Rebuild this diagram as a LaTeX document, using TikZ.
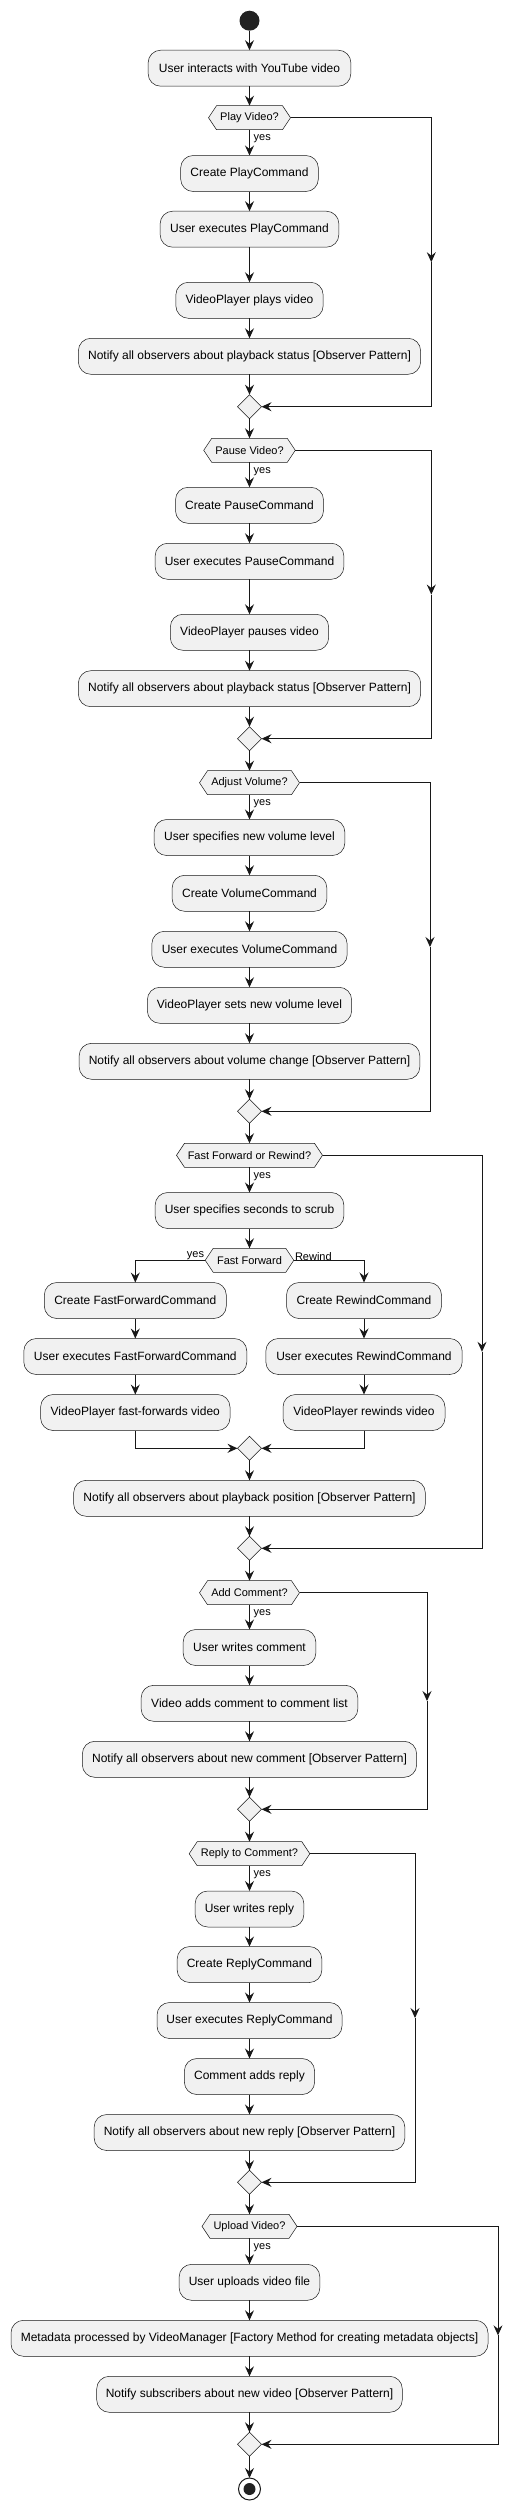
\documentclass[tikz,border=0pt]{standalone}
\usepackage{fontspec}
\setmainfont{Liberation Sans}
\usetikzlibrary{arrows.meta,shapes.geometric,backgrounds}
\definecolor{lc}{HTML}{181818}
\definecolor{bc}{HTML}{181818}
\definecolor{bf}{HTML}{F1F1F1}
\definecolor{dark}{HTML}{222222}
\tikzset{
  flow/.style={draw=lc, line width=1pt, -{Stealth[length=10pt,width=9pt,inset=3.5pt]}},
  actbox/.style={draw=bc, line width=0.5pt, fill=bf, rounded corners=12.5pt, minimum height=36pt, inner sep=0pt, outer sep=0pt, font=\fontsize{12}{14}\selectfont},
  hexnode/.style={minimum height=24pt, inner sep=0pt, outer sep=0pt, font=\fontsize{11}{13}\selectfont},
  hexshape/.style={draw=bc, line width=0.5pt, fill=bf},
  merge/.style={diamond, draw=bc, line width=0.5pt, fill=bf, minimum width=24pt, minimum height=24pt, inner sep=0pt, outer sep=0pt},
  lbl/.style={font=\fontsize{11}{13}\selectfont, inner sep=1pt}
}
\newcommand\hexdraw[1]{\path[hexshape] (#1.west) -- ([xshift=8pt]#1.north west) -- ([xshift=-8pt]#1.north east) -- (#1.east) -- ([xshift=-8pt]#1.south east) -- ([xshift=8pt]#1.south west) -- cycle;}
\begin{document}
\begin{tikzpicture}[x=1pt,y=-1pt]
\useasboundingbox (0,0) rectangle (523,2508);
% start
\node[circle, fill=dark, minimum size=20pt, inner sep=0pt, outer sep=0pt] (start) at (249.5,20.7) {};
\node[actbox, minimum width=202.7pt] (a1) at (249.5,68.2) {User interacts with YouTube video};
% Play
\node[hexnode, minimum width=82pt] (d1) at (249.5,117.7) {Play Video?};
\node[actbox, minimum width=137.7pt] (p1) at (249.5,173.5) {Create PlayCommand};
\node[actbox, minimum width=178.7pt] (p2) at (249.5,229.2) {User executes PlayCommand};
\node[actbox, minimum width=147.3pt] (p3) at (249.5,300.3) {VideoPlayer plays video};
\node[actbox, minimum width=342.3pt] (p4) at (249.5,356.3) {Notify all observers about playback status [Observer Pattern]};
\node[merge] (m1) at (249.5,406.7) {};
% Pause
\node[hexnode, minimum width=91.6pt] (d2) at (249.5,450.3) {Pause Video?};
\node[actbox, minimum width=148pt] (q1) at (249.5,505.3) {Create PauseCommand};
\node[actbox, minimum width=188.7pt] (q2) at (249.5,561.3) {User executes PauseCommand};
\node[actbox, minimum width=158.3pt] (q3) at (249.5,632.3) {VideoPlayer pauses video};
\node[actbox, minimum width=342.3pt] (q4) at (249.5,688.7) {Notify all observers about playback status [Observer Pattern]};
\node[merge] (m2) at (249.5,738.7) {};
% Volume
\node[hexnode, minimum width=100pt] (d3) at (249.5,782.7) {Adjust Volume?};
\node[actbox, minimum width=190.7pt] (v1) at (249.5,837.5) {User specifies new volume level};
\node[actbox, minimum width=154.7pt] (v2) at (249.5,893.3) {Create VolumeCommand};
\node[actbox, minimum width=195.3pt] (v3) at (249.5,949.3) {User executes VolumeCommand};
\node[actbox, minimum width=204.3pt] (v4) at (249.5,1005.3) {VideoPlayer sets new volume level};
\node[actbox, minimum width=340.7pt] (v5) at (249.5,1061.3) {Notify all observers about volume change [Observer Pattern]};
\node[merge] (m3) at (249.5,1111.3) {};
% Fast forward / rewind
\node[hexnode, minimum width=146pt] (d4) at (249.5,1155.3) {Fast Forward or Rewind?};
\node[actbox, minimum width=188.7pt] (f1) at (249.5,1210.5) {User specifies seconds to scrub};
\node[hexnode, minimum width=88.6pt] (d5) at (249.5,1260.3) {Fast Forward};
\node[actbox, minimum width=182pt] (f2) at (135.3,1300.5) {Create FastForwardCommand};
\node[actbox, minimum width=223pt] (f3) at (135.3,1356.5) {User executes FastForwardCommand};
\node[actbox, minimum width=189.4pt] (f4) at (135.3,1412.5) {VideoPlayer fast-forwards video};
\node[actbox, minimum width=155pt] (r2) at (364,1300.5) {Create RewindCommand};
\node[actbox, minimum width=196.3pt] (r3) at (364,1356.5) {User executes RewindCommand};
\node[actbox, minimum width=162pt] (r4) at (364,1412.5) {VideoPlayer rewinds video};
\node[merge] (m4) at (249.5,1448.3) {};
\node[actbox, minimum width=351.7pt] (f5) at (249.5,1498.3) {Notify all observers about playback position [Observer Pattern]};
\node[merge] (m5) at (249.5,1548.3) {};
% Comment
\node[hexnode, minimum width=100pt] (d6) at (249.5,1592.7) {Add Comment?};
\node[actbox, minimum width=132.7pt] (c1) at (249.5,1647.5) {User writes comment};
\node[actbox, minimum width=216.7pt] (c2) at (249.5,1703.3) {Video adds comment to comment list};
\node[actbox, minimum width=334.3pt] (c3) at (249.5,1759.3) {Notify all observers about new comment [Observer Pattern]};
\node[merge] (m6) at (249.5,1809.3) {};
% Reply
\node[hexnode, minimum width=120.7pt] (d7) at (249.5,1853.7) {Reply to Comment?};
\node[actbox, minimum width=108.7pt] (e1) at (249.5,1909) {User writes reply};
\node[actbox, minimum width=144.7pt] (e2) at (249.5,1964.5) {Create ReplyCommand};
\node[actbox, minimum width=185pt] (e3) at (249.5,2020.5) {User executes ReplyCommand};
\node[actbox, minimum width=130.3pt] (e4) at (249.5,2076.5) {Comment adds reply};
\node[actbox, minimum width=310.7pt] (e5) at (249.5,2132.5) {Notify all observers about new reply [Observer Pattern]};
\node[merge] (m7) at (249.5,2182.3) {};
% Upload
\node[hexnode, minimum width=95pt] (d8) at (249.5,2226.3) {Upload Video?};
\node[actbox, minimum width=140.7pt] (u1) at (249.5,2282.3) {User uploads video file};
\node[actbox, minimum width=477pt] (u2) at (249.5,2338.3) {Metadata processed by VideoManager [Factory Method for creating metadata objects]};
\node[actbox, minimum width=305.6pt] (u3) at (249.5,2394.3) {Notify subscribers about new video [Observer Pattern]};
\node[merge] (m8) at (249.5,2444.3) {};
% end
\node[circle, draw=lc, line width=1pt, fill=white, minimum size=22pt, inner sep=0pt, outer sep=0pt] (stop) at (249.5,2489) {};
\node[circle, fill=dark, minimum size=12pt, inner sep=0pt, outer sep=0pt] (stopdot) at (249.5,2489) {};
% hexagon outlines
\begin{scope}[on background layer]
\hexdraw{d1}\hexdraw{d2}\hexdraw{d3}\hexdraw{d4}\hexdraw{d5}\hexdraw{d6}\hexdraw{d7}\hexdraw{d8}
\end{scope}
% yes labels
\foreach \d in {d1,d2,d3,d4,d6,d7,d8}{
  \node[lbl, anchor=west] at ([xshift=3pt,yshift=-9pt]\d.south) {yes};
}
\node[lbl, anchor=south east] (lyes) at ([yshift=-1pt]d5.west) {yes};
\node[lbl, anchor=south west] (lrew) at ([yshift=-1pt]d5.east) {Rewind};
% bend coordinates
\coordinate (k1) at (431.3,262.2);
\coordinate (k2) at (431.3,594.5);
\coordinate (k3) at (430,947);
\coordinate (k4) at (482,1351.8);
\coordinate (k6) at (427,1701);
\coordinate (k7) at (415,2018);
\coordinate (k8) at (498,2335.3);
% main flow
\draw[flow] (start) -- (a1);
\draw[flow] (a1) -- (d1);
\draw[flow] (d1) -- (p1);
\draw[flow] (p1) -- (p2);
\draw[flow] (p2) -- (p3);
\draw[flow] (p3) -- (p4);
\draw[flow] (p4) -- (m1);
\draw[flow] (d1.east) -| (k1);
\draw[flow] (k1) |- (m1.east);
\draw[flow] (m1) -- (d2);
\draw[flow] (d2) -- (q1);
\draw[flow] (q1) -- (q2);
\draw[flow] (q2) -- (q3);
\draw[flow] (q3) -- (q4);
\draw[flow] (q4) -- (m2);
\draw[flow] (d2.east) -| (k2);
\draw[flow] (k2) |- (m2.east);
\draw[flow] (m2) -- (d3);
\draw[flow] (d3) -- (v1);
\draw[flow] (v1) -- (v2);
\draw[flow] (v2) -- (v3);
\draw[flow] (v3) -- (v4);
\draw[flow] (v4) -- (v5);
\draw[flow] (v5) -- (m3);
\draw[flow] (d3.east) -| (k3);
\draw[flow] (k3) |- (m3.east);
\draw[flow] (m3) -- (d4);
\draw[flow] (d4) -- (f1);
\draw[flow] (f1) -- (d5);
\draw[flow] (d5.west) -| (f2.north);
\draw[flow] (d5.east) -| (r2.north);
\draw[flow] (f2) -- (f3);
\draw[flow] (f3) -- (f4);
\draw[flow] (r2) -- (r3);
\draw[flow] (r3) -- (r4);
\draw[flow] (f4.south) |- (m4.west);
\draw[flow] (r4.south) |- (m4.east);
\draw[flow] (m4) -- (f5);
\draw[flow] (f5) -- (m5);
\draw[flow] (d4.east) -| (k4);
\draw[flow] (k4) |- (m5.east);
\draw[flow] (m5) -- (d6);
\draw[flow] (d6) -- (c1);
\draw[flow] (c1) -- (c2);
\draw[flow] (c2) -- (c3);
\draw[flow] (c3) -- (m6);
\draw[flow] (d6.east) -| (k6);
\draw[flow] (k6) |- (m6.east);
\draw[flow] (m6) -- (d7);
\draw[flow] (d7) -- (e1);
\draw[flow] (e1) -- (e2);
\draw[flow] (e2) -- (e3);
\draw[flow] (e3) -- (e4);
\draw[flow] (e4) -- (e5);
\draw[flow] (e5) -- (m7);
\draw[flow] (d7.east) -| (k7);
\draw[flow] (k7) |- (m7.east);
\draw[flow] (m7) -- (d8);
\draw[flow] (d8) -- (u1);
\draw[flow] (u1) -- (u2);
\draw[flow] (u2) -- (u3);
\draw[flow] (u3) -- (m8);
\draw[flow] (d8.east) -| (k8);
\draw[flow] (k8) |- (m8.east);
\draw[flow] (m8) -- (stop);
\end{tikzpicture}
\end{document}
